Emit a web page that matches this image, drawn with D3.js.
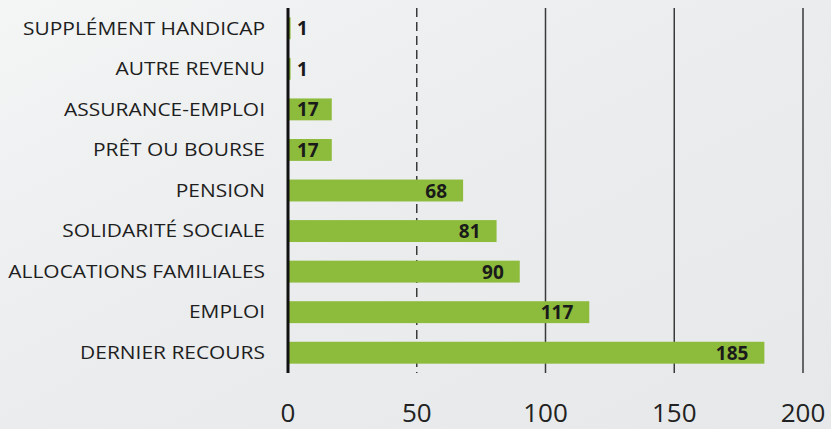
<!DOCTYPE html>
<html>
<head>
<meta charset="utf-8">
<script src="https://cdn.jsdelivr.net/npm/d3@7"></script>
<style>
  body { margin: 0; background: #eceeef; }
  svg { display: block; }
</style>
</head>
<body>
<div id="chart"></div>
<script>
var categories = ["SUPPLÉMENT HANDICAP", "AUTRE REVENU", "ASSURANCE-EMPLOI", "PRÊT OU BOURSE",
                  "PENSION", "SOLIDARITÉ SOCIALE", "ALLOCATIONS FAMILIALES", "EMPLOI", "DERNIER RECOURS"];
var values = [1, 1, 17, 17, 68, 81, 90, 117, 185];
var ticks = [0, 50, 100, 150, 200];

var width = 831,
    height = 429;

var svg = d3.select("#chart").append("svg")
    .attr("width", width)
    .attr("height", height);

var defs = svg.append("defs");
var grad = defs.append("linearGradient").attr("id", "bg")
    .attr("x1", "0").attr("y1", "0").attr("x2", "1").attr("y2", "1");
grad.append("stop").attr("offset", "0").attr("stop-color", "#f4f5f5");
grad.append("stop").attr("offset", "0.5").attr("stop-color", "#eaeced");
grad.append("stop").attr("offset", "1").attr("stop-color", "#e6e8e9");
svg.append("rect").attr("width", width).attr("height", height).attr("fill", "url(#bg)");

var x = d3.scaleLinear()
    .domain([0, 200])
    .range([288, 803]);

var y = d3.scaleBand()
    .domain(categories)
    .range([8, 373])
    .paddingInner(0.46)
    .paddingOuter(0.23);

// gridlines
svg.append("g")
  .selectAll("line")
  .data(ticks.filter(function(d) { return d > 0; }))
  .enter().append("line")
    .attr("x1", function(d) { return x(d); })
    .attr("x2", function(d) { return x(d); })
    .attr("y1", 8)
    .attr("y2", 373)
    .attr("stroke", "#3a3a3a")
    .attr("stroke-width", 1.5)
    .attr("stroke-dasharray", function(d) { return d == 50 ? "9,5" : null; });

// bars
svg.append("g")
  .selectAll("rect")
  .data(values)
  .enter().append("rect")
    .attr("x", x(0))
    .attr("y", function(d, i) { return y(categories[i]); })
    .attr("width", function(d) { return x(d) - x(0); })
    .attr("height", y.bandwidth())
    .attr("fill", "#8dbb3c");

// axis line at 0
svg.append("line")
    .attr("x1", x(0)).attr("x2", x(0))
    .attr("y1", 8).attr("y2", 373)
    .attr("stroke", "#111")
    .attr("stroke-width", 3);

// category labels (stretched a bit wider, like the scan)
svg.append("g")
    .attr("font-family", "'Open Sans', sans-serif")
    .attr("font-size", 17.3)
    .attr("fill", "#1e1e1e")
    .attr("text-anchor", "end")
  .selectAll("text")
  .data(categories)
  .enter().append("text")
    .attr("transform", function(d) {
      return "translate(265," + (y(d) + y.bandwidth() / 2) + ") scale(1.21,1)";
    })
    .attr("dy", "0.36em")
    .text(function(d) { return d; });

// value labels
svg.append("g")
    .attr("font-family", "'Open Sans', sans-serif")
    .attr("font-size", 19)
    .attr("font-weight", "bold")
    .attr("fill", "#1a1a1a")
  .selectAll("text")
  .data(values)
  .enter().append("text")
    .attr("y", function(d, i) { return y(categories[i]) + y.bandwidth() / 2; })
    .attr("dy", "0.37em")
    .text(function(d) { return d; })
    .attr("x", function(d) {
      var w = this.getComputedTextLength();
      return Math.max(x(d) - 16 - w, x(0) + 9);
    });

// bottom tick labels
svg.append("g")
    .attr("font-family", "'Open Sans', sans-serif")
    .attr("font-size", 26)
    .attr("fill", "#222")
    .attr("text-anchor", "middle")
  .selectAll("text")
  .data(ticks)
  .enter().append("text")
    .attr("x", function(d) { return x(d); })
    .attr("y", 422)
    .text(function(d) { return d; });
</script>
</body>
</html>
